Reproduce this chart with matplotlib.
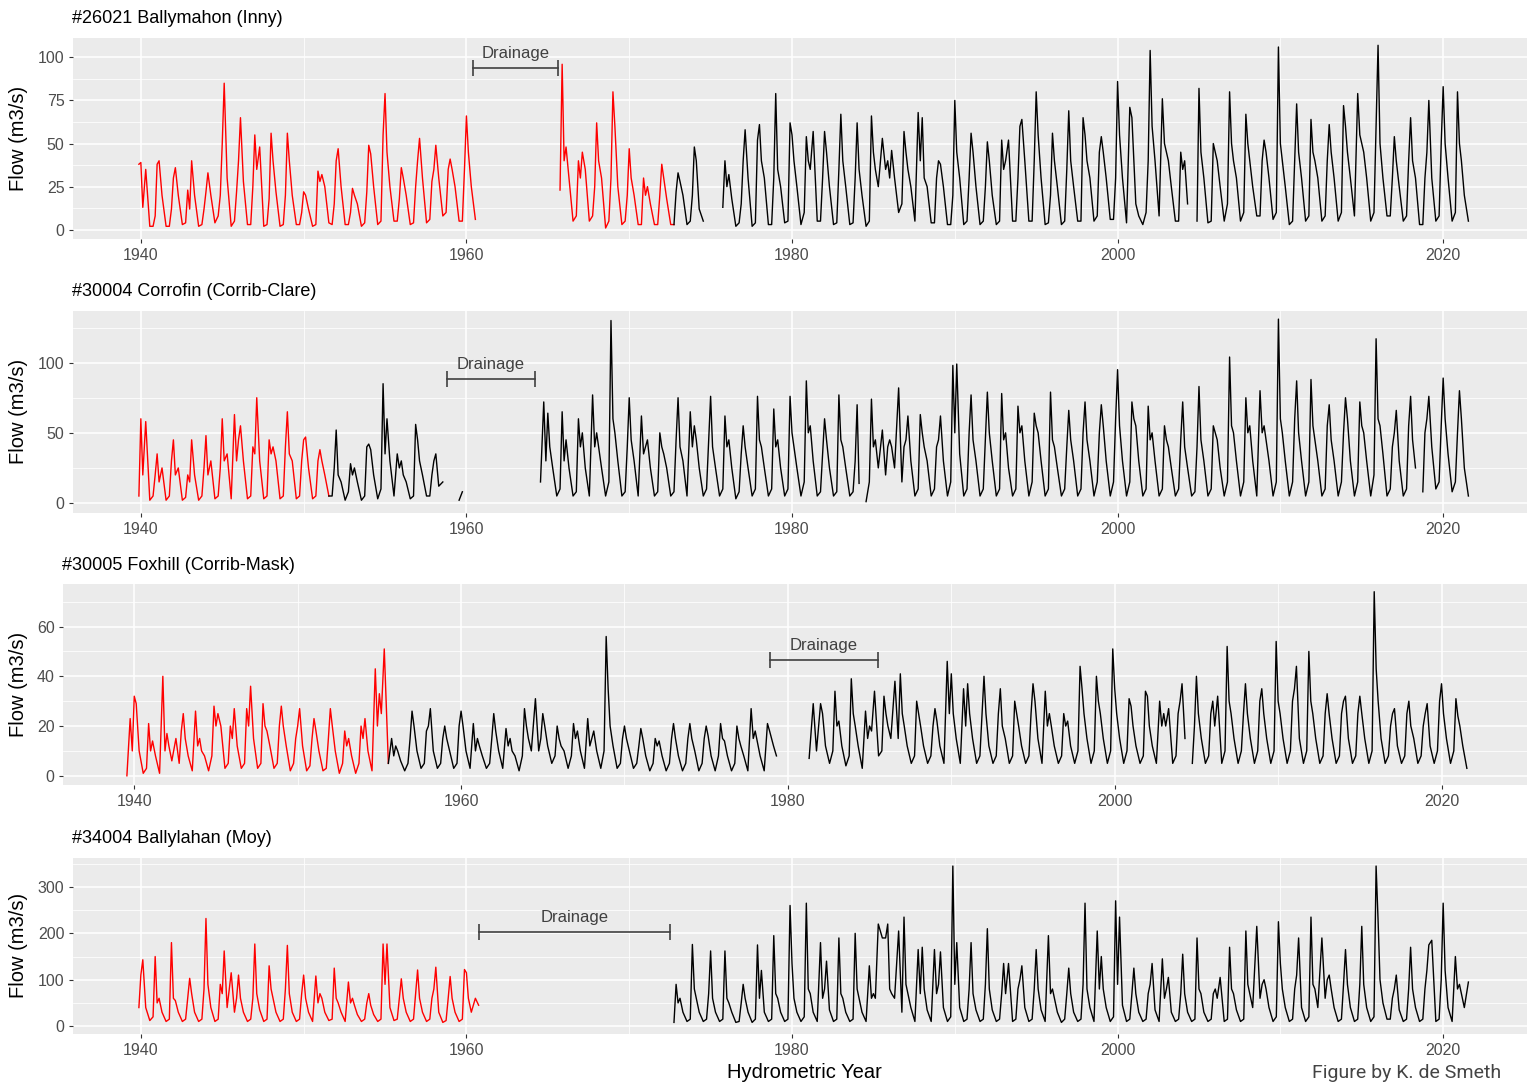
import matplotlib.pyplot as plt
import numpy as np

plt.rcParams['font.family'] = ['Liberation Sans', 'DejaVu Sans']

N = None
GAP = [N, N, N, N, N, N]

# Flow readings (m3/s), one row per hydrometric year.
# Columns: early Oct, mid Nov, Jan, mid Feb, Apr, Jul
inny_first = 1940
inny_red_end = 1972.8
inny_flow = [
    [N, 38, 39, 13, 35, 2], [2, 8, 38, 40, 20, 2], [2, 12, 30, 36, 20, 3],
    [4, 23, 12, 40, 20, 2], [3, 12, 22, 33, 20, 4], [8, 20, 50, 85, 30, 2],
    [5, 22, 40, 65, 28, 3], [3, 25, 55, 35, 48, 2], [3, 18, 56, 40, 22, 2],
    [3, 20, 56, 40, 20, 3], [3, 10, 22, 20, 12, 2], [3, 34, 28, 32, 25, 4],
    [3, 15, 40, 47, 25, 3], [3, 10, 24, 20, 15, 2], [4, 22, 49, 44, 25, 3],
    [5, 55, 79, 45, 25, 5], [5, 18, 36, 30, 20, 3], [4, 25, 40, 53, 30, 4],
    [6, 28, 35, 49, 30, 8], [10, 35, 41, 35, 25, 5], [5, 35, 66, 45, 25, 6],
    GAP, GAP, GAP, GAP, GAP,
    [23, 96, 40, 48, 30, 5], [8, 40, 30, 45, 35, 5], [8, 25, 62, 40, 30, 1],
    [5, 30, 80, 60, 25, 3], [5, 20, 47, 30, 20, 3], [3, 30, 20, 25, 15, 3],
    [3, 20, 38, 30, 18, 3], [3, 22, 33, 28, 20, 3], [5, 20, 48, 40, 12, 5],
    GAP,
    [13, 40, 25, 32, 18, 2], [4, 15, 40, 58, 30, 2], [4, 52, 61, 40, 30, 3],
    [3, 30, 79, 35, 25, 4], [5, 62, 55, 40, 25, 3], [10, 54, 40, 35, 57, 5],
    [5, 30, 57, 45, 25, 3], [4, 35, 67, 40, 25, 3], [4, 30, 62, 35, 20, 2],
    [5, 66, 45, 35, 25, 53], [35, 40, 30, 46, 30, 10], [15, 57, 45, 35, 25, 5],
    [68, 40, 65, 30, 25, 4], [4, 30, 40, 38, 25, 3], [3, 20, 75, 45, 30, 3],
    [5, 30, 56, 45, 25, 3], [5, 25, 51, 40, 20, 3], [5, 52, 35, 40, 52, 5],
    [5, 30, 60, 64, 40, 5], [5, 40, 80, 55, 30, 3], [4, 20, 56, 40, 25, 3],
    [5, 35, 69, 40, 25, 5], [5, 65, 55, 40, 30, 5], [8, 45, 54, 45, 30, 6],
    [6, 30, 86, 55, 30, 4], [71, 65, 40, 15, 8, 3], [10, 40, 104, 60, 40, 8],
    [76, 50, 45, 40, 25, 5], [5, 45, 35, 40, 15, N], [N, 5, 82, 45, 30, 4],
    [5, 50, 45, 40, 25, 5], [15, 80, 50, 40, 30, 5], [10, 67, 50, 40, 25, 8],
    [8, 40, 52, 45, 30, 6], [10, 106, 50, 40, 25, 3], [5, 40, 73, 45, 30, 5],
    [8, 64, 45, 40, 30, 5], [8, 40, 61, 45, 30, 5], [10, 72, 60, 45, 30, 8],
    [79, 55, 50, 45, 30, 5], [10, 60, 107, 50, 30, 8], [8, 30, 54, 40, 25, 5],
    [8, 40, 65, 40, 30, 3], [3, 30, 45, 75, 30, 5], [8, 50, 83, 50, 30, 5],
    [10, 80, 50, 40, 20, 5],
]

corrofin_first = 1940
corrofin_red_end = 1951.6
corrofin_flow = [
    [N, 5, 60, 20, 58, 2], [5, 20, 35, 15, 25, 2], [5, 30, 45, 20, 25, 2],
    [4, 20, 15, 45, 20, 2], [5, 25, 48, 20, 30, 3], [5, 25, 60, 30, 35, 3],
    [63, 30, 45, 55, 30, 3], [5, 40, 35, 75, 30, 3], [5, 45, 35, 40, 30, 3],
    [5, 40, 65, 35, 30, 3], [5, 30, 45, 47, 25, 3], [5, 30, 38, 30, 20, 5],
    [5, 25, 52, 20, 15, 2], [8, 28, 20, 25, 15, 2], [5, 40, 42, 38, 20, 3],
    [10, 85, 35, 60, 30, 5], [35, 25, 30, 20, 15, 3], [5, 56, 45, 30, 20, 5],
    [5, 20, 30, 35, 12, 15], [N, N, N, N, N, 2], [8, N, N, N, N, N],
    GAP, GAP, GAP, [N, N, N, N, N, 15],
    [72, 30, 64, 40, 25, 5], [10, 65, 30, 45, 25, 5], [8, 60, 40, 50, 25, 5],
    [77, 40, 50, 40, 25, 5], [15, 130, 60, 50, 30, 5], [8, 40, 75, 45, 30, 5],
    [62, 35, 40, 45, 25, 5], [8, 50, 40, 35, 25, 5], [8, 45, 75, 40, 30, 5],
    [65, 40, 55, 45, 25, 5], [10, 45, 76, 40, 25, 5], [10, 62, 40, 45, 25, 3],
    [8, 35, 55, 40, 25, 5], [10, 76, 45, 40, 25, 5], [10, 67, 40, 45, 25, 5],
    [10, 76, 50, 40, 25, 5], [15, 87, 50, 55, 30, 5], [8, 35, 60, 45, 25, 5],
    [8, 77, 45, 40, 25, 5], [8, 30, 70, 14, N, 1], [15, 74, 40, 45, 25, 52],
    [20, 40, 45, 40, 25, 82], [15, 40, 45, 62, 30, 5], [10, 63, 50, 40, 30, 5],
    [10, 40, 45, 62, 30, 5], [15, 98, 50, 99, 35, 5], [10, 50, 77, 45, 30, 5],
    [10, 45, 79, 50, 30, 5], [10, 78, 45, 50, 25, 5], [10, 69, 50, 55, 30, 5],
    [15, 64, 55, 50, 30, 5], [10, 79, 45, 40, 25, 5], [10, 40, 66, 45, 30, 5],
    [10, 50, 72, 45, 30, 5], [15, 50, 70, 55, 30, 5], [15, 60, 95, 55, 30, 5],
    [15, 72, 60, 55, 30, 5], [10, 69, 45, 50, 30, 5], [10, 55, 45, 40, 25, 5],
    [10, 45, 72, 40, 25, 5], [8, 40, 83, 45, 30, 5], [10, 55, 50, 45, 25, 5],
    [15, 104, 55, 50, 30, 5], [15, 75, 50, 55, 30, 5], [80, 50, 55, 45, 30, 5],
    [15, 131, 60, 50, 30, 5], [15, 60, 87, 50, 30, 5], [15, 88, 55, 45, 30, 5],
    [10, 55, 70, 45, 30, 5], [15, 50, 75, 60, 30, 5], [15, 72, 55, 50, 30, 5],
    [20, 117, 60, 55, 35, 5], [10, 40, 50, 66, 30, 5], [10, 55, 76, 45, 25, N],
    [8, 50, 60, 76, 40, 10], [15, 55, 89, 60, 35, 8], [15, 50, 80, 60, 25, 5],
]

foxhill_first = 1939
foxhill_red_end = 1955.7
foxhill_flow = [
    [N, N, N, N, N, 0],
    [23, 10, 32, 29, 10, 1], [3, 21, 10, 14, 8, 1], [40, 10, 17, 12, 6, 15],
    [5, 18, 25, 15, 8, 2], [26, 12, 15, 10, 8, 2], [8, 28, 20, 25, 20, 3],
    [5, 20, 15, 27, 12, 3], [5, 27, 20, 36, 15, 3], [5, 29, 20, 18, 12, 3],
    [5, 20, 28, 20, 12, 2], [5, 15, 20, 27, 12, 2], [4, 15, 23, 18, 10, 2],
    [3, 15, 27, 20, 10, 1], [5, 18, 12, 15, 8, 1], [5, 20, 15, 23, 10, 2],
    [43, 20, 33, 25, 51, 5], [15, 8, 12, 10, 6, 2], [5, 15, 26, 20, 10, 3],
    [5, 18, 20, 27, 10, 3], [5, 15, 20, 15, 10, 3], [5, 20, 26, 20, 10, 3],
    [21, 10, 15, 12, 8, 3], [5, 15, 25, 18, 10, 3], [19, 12, 15, 10, 8, 2],
    [8, 27, 20, 15, 10, 31], [10, 15, 25, 20, 12, 5], [8, 20, 15, 12, 10, 3],
    [8, 21, 15, 18, 10, 3], [23, 12, 15, 18, 10, 3], [10, 56, 35, 20, 12, 3],
    [5, 15, 20, 15, 10, 3], [5, 12, 19, 15, 8, 2], [5, 15, 12, 14, 8, 2],
    [5, 15, 21, 15, 8, 2], [5, 15, 21, 15, 10, 2], [5, 15, 20, 16, 8, 2],
    [8, 21, 15, 14, 8, 2], [5, 20, 15, 12, 8, 2], [27, 15, 18, 14, 8, 2],
    [21, 18, 15, 12, 8, N], GAP, [N, N, N, N, 7, 29],
    [10, 20, 29, 25, 12, 5], [10, 34, 20, 22, 12, 4], [8, 39, 25, 20, 12, 3],
    [26, 15, 20, 18, 34, 8], [10, 32, 25, 20, 15, 38], [15, 41, 25, 20, 12, 5],
    [8, 30, 25, 20, 12, 5], [8, 20, 27, 22, 12, 5], [46, 25, 41, 25, 15, 5],
    [35, 20, 37, 25, 15, 5], [8, 25, 40, 25, 12, 5], [8, 25, 35, 20, 15, 5],
    [8, 30, 25, 20, 12, 5], [8, 25, 37, 30, 15, 5], [34, 20, 25, 20, 12, 5],
    [8, 25, 20, 22, 12, 5], [10, 44, 35, 25, 15, 5], [10, 40, 30, 25, 15, 5],
    [10, 51, 35, 25, 15, 5], [10, 31, 28, 20, 12, 5], [8, 34, 32, 20, 12, 5],
    [30, 20, 25, 20, 27, 5], [8, 25, 30, 37, 15, N], [5, 20, 40, 25, 15, 5],
    [8, 25, 30, 20, 32, 5], [10, 52, 30, 25, 15, 5], [10, 25, 37, 25, 15, 5],
    [10, 30, 35, 25, 15, 5], [10, 54, 30, 25, 15, 5], [10, 30, 35, 44, 15, 5],
    [10, 50, 30, 25, 15, 5], [8, 25, 33, 25, 15, 5], [8, 25, 30, 32, 15, 5],
    [8, 25, 32, 25, 15, 5], [10, 74, 43, 30, 15, 5], [8, 20, 25, 27, 12, 5],
    [8, 25, 30, 20, 15, 5], [8, 20, 25, 29, 12, 5], [10, 30, 37, 25, 15, 5],
    [10, 31, 24, 20, 12, 3],
]

ballylahan_first = 1940
ballylahan_red_end = 1965
ballylahan_flow = [
    [N, 40, 110, 143, 40, 12], [20, 150, 50, 60, 30, 10], [15, 180, 60, 55, 30, 10],
    [15, 60, 103, 70, 30, 10], [15, 80, 232, 90, 40, 10], [15, 90, 70, 162, 40, 115],
    [30, 60, 110, 60, 30, 10], [15, 60, 177, 70, 35, 10], [15, 130, 80, 60, 30, 10],
    [15, 80, 174, 70, 30, 10], [15, 70, 110, 60, 30, 10], [108, 50, 70, 60, 30, 12],
    [15, 125, 60, 50, 30, 10], [95, 50, 60, 45, 25, 10], [15, 50, 70, 45, 25, 10],
    [15, 177, 90, 177, 40, 12], [15, 60, 102, 60, 30, 10], [15, 70, 121, 60, 30, 10],
    [15, 60, 80, 127, 30, 8], [12, 60, 107, 60, 30, 10], [15, 122, 115, 60, 30, 60],
    [45, N, N, N, N, N],
    GAP, GAP, GAP, GAP, GAP, GAP, GAP, GAP, GAP, GAP, GAP,
    [8, 90, 50, 60, 30, 10], [15, 176, 80, 60, 30, 10], [15, 70, 162, 60, 30, 10],
    [15, 162, 60, 50, 30, 8], [10, 50, 90, 60, 30, 8], [15, 175, 60, 120, 30, 10],
    [15, 195, 70, 60, 30, 10], [15, 260, 135, 60, 30, 10], [20, 265, 80, 70, 30, 10],
    [180, 60, 80, 140, 35, 10], [15, 190, 70, 60, 30, 10], [15, 200, 80, 60, 30, 10],
    [130, 60, 70, 60, 220, 190], [190, 220, 80, 70, 60, 205], [30, 235, 90, 70, 40, 10],
    [165, 70, 170, 80, 35, 10], [165, 70, 90, 160, 40, 10], [20, 345, 90, 180, 40, 10],
    [15, 80, 180, 70, 35, 10], [15, 90, 210, 80, 35, 10], [15, 70, 135, 70, 135, 10],
    [15, 80, 100, 130, 40, 10], [15, 80, 165, 80, 35, 10], [195, 70, 80, 60, 30, 8],
    [15, 70, 125, 70, 30, 10], [15, 90, 265, 80, 40, 10], [205, 80, 150, 80, 40, 10],
    [20, 270, 90, 235, 45, 10], [15, 70, 125, 70, 30, 10], [15, 70, 90, 135, 35, 10],
    [145, 60, 80, 105, 30, 10], [15, 70, 155, 70, 30, 10], [15, 190, 80, 70, 30, 10],
    [15, 70, 80, 60, 105, 10], [15, 170, 80, 70, 35, 10], [15, 205, 90, 70, 40, 215],
    [60, 90, 100, 80, 40, 10], [20, 225, 135, 80, 40, 10], [15, 80, 110, 190, 40, 10],
    [20, 235, 90, 80, 40, 190], [60, 100, 110, 80, 40, 10], [15, 90, 165, 90, 40, 10],
    [15, 90, 215, 90, 40, 10], [20, 345, 230, 100, 50, 15], [15, 60, 80, 110, 35, 10],
    [15, 80, 170, 80, 40, 10], [15, 80, 120, 175, 185, 10], [15, 100, 265, 120, 40, 10],
    [150, 80, 90, 70, 40, 95],
]

titles = ["#26021 Ballymahon (Inny)", "#30004 Corrofin (Corrib-Clare)",
          "#30005 Foxhill (Corrib-Mask)", "#34004 Ballylahan (Moy)"]
yticks = [[0, 25, 50, 75, 100], [0, 50, 100], [0, 20, 40, 60], [0, 100, 200, 300]]
# drainage works: start, end, bar level
drainage = [(1960.4, 1965.6, 93.8), (1958.8, 1964.2, 88.4),
            (1978.9, 1985.5, 46.5), (1960.8, 1972.5, 203.6)]

# month positions (fraction of year) of the six readings in each row
OFFSETS = [-0.25, -0.12, 0.0, 0.12, 0.3, 0.55]

W, H = 1527, 1083
fig = plt.figure(figsize=(W / 100, H / 100), dpi=100)
fig.patch.set_facecolor('white')


def px_axes(left, top, bottom, right=W):
    return fig.add_axes([left / W, 1 - bottom / H, (right - left) / W, (bottom - top) / H])


def series(first, rows):
    t, q = [], []
    for i, row in enumerate(rows):
        for off, v in zip(OFFSETS, row):
            t.append(first + i + off)
            q.append(np.nan if v is None else v)
    return np.array(t), np.array(q)


panels = [
    (inny_first, inny_flow, inny_red_end, (72.8, 37.7, 238.7), (1935.82, 2025.15), (-5.2, 111.4)),
    (corrofin_first, corrofin_flow, corrofin_red_end, (72.8, 310.7, 512.7), (1935.82, 2025.15), (-6.9, 137)),
    (foxhill_first, foxhill_flow, foxhill_red_end, (63, 584, 785), (1935.64, 2025.23), (-3.7, 77.1)),
    (ballylahan_first, ballylahan_flow, ballylahan_red_end, (72.8, 857.7, 1034), (1935.82, 2025.15), (-17, 363)),
]

for k, (first, rows, red_end, box, xl, yl) in enumerate(panels):
    left, top, bottom = box
    ax = px_axes(left, top, bottom)
    ax.set_facecolor('#EBEBEB')
    for s in ax.spines.values():
        s.set_visible(False)

    ax.set_xlim(*xl)
    ax.set_ylim(*yl)
    ax.set_xticks([1940, 1960, 1980, 2000, 2020])
    ax.set_xticks([1950, 1970, 1990, 2010], minor=True)
    yt = yticks[k]
    step = yt[1] - yt[0]
    ax.set_yticks(yt)
    ax.set_yticks(np.arange(yt[0] + step / 2, yl[1], step), minor=True)
    ax.grid(which='major', color='white', lw=1.1)
    ax.grid(which='minor', color='white', lw=0.55)
    ax.set_axisbelow(True)
    ax.tick_params(which='major', length=3, width=0.8, color='#333333',
                   labelsize=11.5, labelcolor='#4D4D4D')
    ax.tick_params(axis='x', which='major', pad=3.5)
    ax.tick_params(axis='y', which='major', pad=3)
    ax.tick_params(which='minor', length=0)

    t, q = series(first, rows)
    n_red = int((t <= red_end).sum())
    ax.plot(t[:n_red], q[:n_red], color='#FF0000', lw=1.0)
    ax.plot(t[n_red - 1:], q[n_red - 1:], color='black', lw=1.0)

    x0, x1, yb = drainage[k]
    ax.plot([x0, x1], [yb, yb], color='#404040', lw=1.2, marker='|',
            markersize=11, mew=1.2)
    ax.annotate('Drainage', xy=((x0 + x1) / 2, yb), xytext=(0, 10.3),
                textcoords='offset points', ha='center', va='center',
                fontsize=12, color='#404040')

    fig.text((left - 1) / W, 1 - (top - 19) / H, titles[k], fontsize=13,
             ha='left', va='center', color='black')
    fig.text(19 / W, 1 - ((top + bottom) / 2) / H, 'Flow (m3/s)', fontsize=14.5,
             rotation=90, ha='center', va='center')

fig.text(804 / W, 1 - 1072 / H, 'Hydrometric Year', fontsize=14.5,
         ha='center', va='center')
fig.text(1312 / W, 1 - 1082 / H, 'Figure by K. de Smeth', fontsize=14,
         ha='left', va='bottom', color='#444444', family=['Roboto', 'DejaVu Sans'])

fig.savefig('out.png', dpi=100)
